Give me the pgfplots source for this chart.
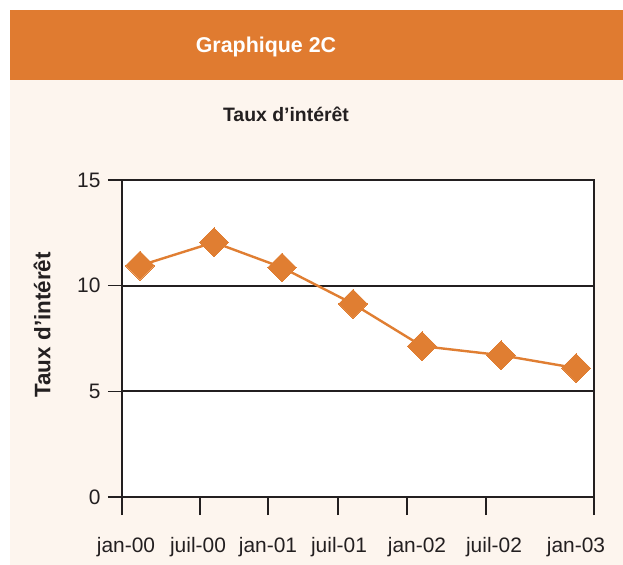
\documentclass[border=0pt]{standalone}
\usepackage{fontspec}
\setmainfont{Liberation Sans}
\usepackage{pgfplots}
\pgfplotsset{compat=1.18}

\definecolor{bandorange}{RGB}{224,123,48}
\definecolor{cream}{RGB}{253,245,238}
\definecolor{lineorange}{RGB}{224,126,50}
\definecolor{ink}{RGB}{35,31,32}

\begin{document}
\begin{tikzpicture}[x=1bp,y=1bp]
  % page background and header band
  \fill[white] (0,0) rectangle (623,565);
  \fill[cream] (10,0) rectangle (623,555);
  \fill[bandorange] (10,485) rectangle (623,555);
  \useasboundingbox (0,0) rectangle (623,565);
  \node[anchor=base, text=white, font=\bfseries\fontsize{21.5}{24}\selectfont] at (266,512) {Graphique 2C};
  \node[anchor=base, text=ink, font=\bfseries\fontsize{19.5}{22}\selectfont] at (286,443) {Taux d’intérêt};

  \begin{axis}[
      at={(122bp,68bp)}, anchor=south west,
      scale only axis,
      width=472bp, height=317bp,
      xmin=0, xmax=472, ymin=0, ymax=15,
      axis background/.style={fill=white},
      axis line style={ink, line width=1.6bp},
      every tick/.style={ink, line width=1.6bp},
      tick align=outside,
      xtick pos=bottom, ytick pos=left,
      major tick length=14bp,
      ytick={0,5,10,15},
      ymajorgrids,
      major y grid style={draw=ink, line width=1.8bp},
      xtick={0,78,146,216,285,364,472},
      xticklabels={},
      major x tick style={/pgfplots/major tick length=18bp},
      extra x ticks={4,76,146,217,295,372,454},
      extra x tick labels={jan-00,juil-00,jan-01,juil-01,jan-02,juil-02,jan-03},
      extra x tick style={major tick length=0bp, grid=none,
        tick style={draw=none},
        xticklabel style={yshift=-37bp}},
      tick label style={text=ink, font=\fontsize{21}{24}\selectfont},
      /pgf/number format/assume math mode=true,
      yticklabel style={xshift=-4bp},
      ylabel={Taux d’intérêt},
      ylabel style={at={(rel axis cs:-0.169,0.543)}, anchor=center,
        text=ink, font=\bfseries\fontsize{22.5}{26}\selectfont},
      clip=false,
    ]
    \addplot[lineorange, line width=2.4bp,
      mark=square*, mark size=10.2bp,
      mark options={rotate=45, fill=lineorange, draw=lineorange, line width=0pt}]
      coordinates {
        (18,10.95) (92,12.05) (160,10.86) (231,9.14)
        (300,7.14) (379,6.71) (454,6.10)
      };
  \end{axis}
\end{tikzpicture}
\end{document}
